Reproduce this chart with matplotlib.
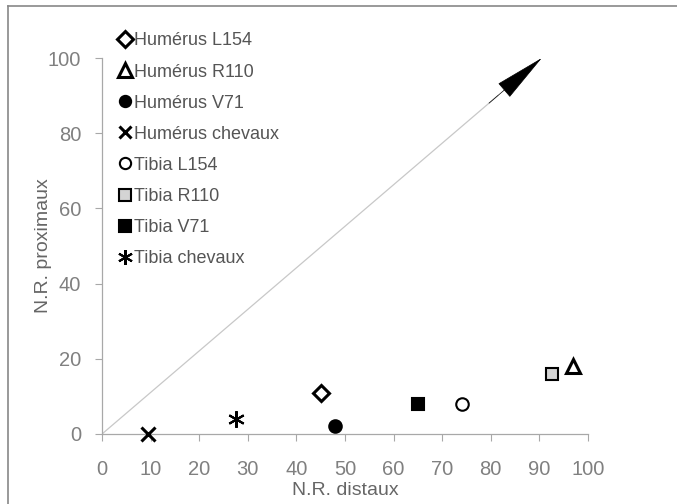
import matplotlib
matplotlib.use('Agg')
import matplotlib.pyplot as plt
from matplotlib.lines import Line2D

labels = ['Humérus L154', 'Humérus R110', 'Humérus V71', 'Humérus chevaux',
          'Tibia L154', 'Tibia R110', 'Tibia V71', 'Tibia chevaux']
distaux = [45, 97, 48, 9.5, 74, 92.5, 65, 27.5]
proximaux = [11, 18, 2, 0, 8, 16, 8, 4]
arrow_end = (90.5, 100)

# marker, face colour, size
styles = [('D', 'white', 8.5),
          ('^', 'white', 10.5),
          ('o', 'black', 9),
          ('x', 'black', 10),
          ('o', 'white', 9),
          ('s', '#d4d4d4', 9),
          ('s', 'black', 9),
          ((6, 2, 0), 'black', 12)]

plt.rcParams['font.family'] = 'Liberation Sans'

fig = plt.figure(figsize=(6.77, 5.04), dpi=100)
ax = fig.add_axes([0.1507, 0.1389, 0.7178, 0.746])

# frame around the figure (left and top visible)
fig.add_artist(Line2D([0.012, 0.012], [0, 0.988], color='#888888', lw=1.2))
fig.add_artist(Line2D([0.012, 1.0], [0.988, 0.988], color='#888888', lw=1.2))

# diagonal with arrowhead
ax.plot([0, arrow_end[0] * 0.9], [0, arrow_end[1] * 0.9], color='#c8c8c8', lw=0.9)
ax.annotate('', xy=arrow_end, xytext=(arrow_end[0] * 0.88, arrow_end[1] * 0.88),
            arrowprops=dict(arrowstyle='-|>,head_length=3.4,head_width=0.6',
                            color='black', lw=0.5, shrinkA=0, shrinkB=0),
            annotation_clip=False)

handles = []
for lab, x, y, (m, fc, ms) in zip(labels, distaux, proximaux, styles):
    mew = 2.2 if m in ('x', 'D', '^') else 1.5
    h, = ax.plot([x], [y], linestyle='none', marker=m, markersize=ms,
                 markerfacecolor=fc, markeredgecolor='black', markeredgewidth=mew,
                 label=lab, clip_on=False, zorder=5)
    handles.append(h)

ax.set_xlim(0, 100)
ax.set_ylim(0, 100)
ax.set_xticks(range(0, 101, 10))
ax.set_yticks(range(0, 101, 20))
for s in ['top', 'right']:
    ax.spines[s].set_visible(False)
for s in ['left', 'bottom']:
    ax.spines[s].set_color('#a8a8a8')
    ax.spines[s].set_linewidth(0.9)
ax.tick_params(direction='out', length=5, color='#a8a8a8', labelcolor='#808080',
               labelsize=14.5)
ax.tick_params(axis='x', pad=14)
ax.tick_params(axis='y', pad=10)
ax.set_xlabel('N.R. distaux', fontsize=14, color='#666666', labelpad=2)
ax.set_ylabel('N.R. proximaux', fontsize=14, color='#666666', labelpad=-3)

leg = fig.legend(handles=handles, loc='upper left', bbox_to_anchor=(0.165, 0.95),
                 frameon=False, fontsize=13, handlelength=0.7, handletextpad=0.15,
                 labelspacing=0.78, borderaxespad=0, markerscale=0.9)
for t in leg.get_texts():
    t.set_color('#555555')

fig.savefig('out.png', dpi=100)
